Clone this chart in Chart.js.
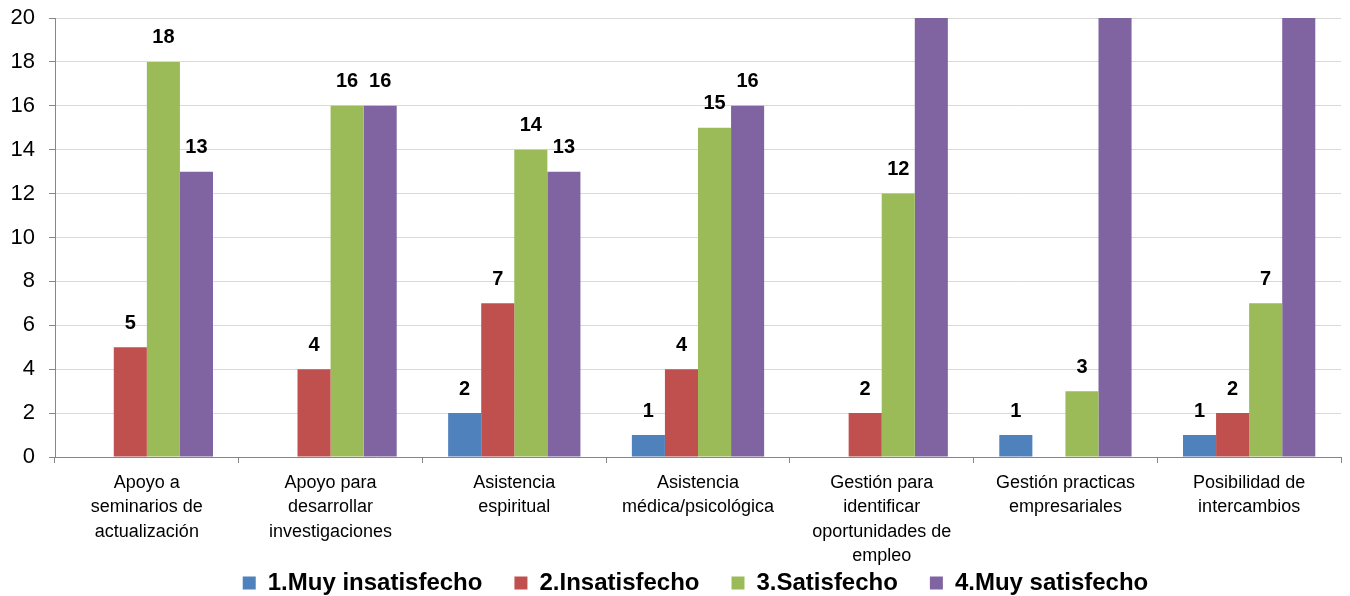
<!DOCTYPE html>
<html>
<head>
<meta charset="utf-8">
<script src="https://cdn.jsdelivr.net/npm/chart.js@4.4.1/dist/chart.umd.min.js"></script>
<style>
  html, body { margin: 0; padding: 0; background: #ffffff; }
  #wrap { width: 1350px; height: 596px; }
</style>
</head>
<body>
<div id="wrap"><canvas id="chart" width="1350" height="596"></canvas></div>
<script>
const categories = [
    ["Apoyo a", "seminarios de", "actualización"],
    ["Apoyo para", "desarrollar", "investigaciones"],
    ["Asistencia", "espiritual"],
    ["Asistencia", "médica/psicológica"],
    ["Gestión para", "identificar", "oportunidades de", "empleo"],
    ["Gestión practicas", "empresariales"],
    ["Posibilidad de", "intercambios"]
];
const seriesNames = ["1.Muy insatisfecho", "2.Insatisfecho", "3.Satisfecho", "4.Muy satisfecho"];
const muyInsatisfecho = [null, null, 2, 1, null, 1, 1];
const insatisfecho = [5, 4, 7, 4, 2, null, 2];
const satisfecho = [18, 16, 14, 15, 12, 3, 7];
// estos pasan de 20 y quedan cortados (total 36 por categoría)
const muySatisfecho = [13, 16, 13, 16, 22, 32, 26];
const yTicks = [0, 2, 4, 6, 8, 10, 12, 14, 16, 18, 20];

const colors = ["#4F81BD", "#C0504D", "#9BBB59", "#8064A2"];
const fontFamily = "'Liberation Sans', Arial, sans-serif";

// etiquetas de valor encima de cada barra
const valueLabels = {
    id: "valueLabels",
    afterDatasetsDraw(chart) {
        const ctx = chart.ctx;
        const yMax = chart.scales.y.max;
        ctx.save();
        ctx.font = "bold 20px " + fontFamily;
        ctx.fillStyle = "#000000";
        ctx.textAlign = "center";
        ctx.textBaseline = "middle";
        chart.data.datasets.forEach(function(ds, i) {
            const meta = chart.getDatasetMeta(i);
            meta.data.forEach(function(bar, j) {
                const v = ds.data[j];
                if (v === null || v > yMax) return;
                ctx.fillText(String(v), bar.x, bar.y - 24);
            });
        });
        ctx.restore();
    }
};

// las etiquetas del eje x bajan por encima de la leyenda, sin recorte
const layoutFix = {
    id: "layoutFix",
    afterLayout(chart) {
        chart.scales.x.bottom = chart.height;
        chart.legend.left += 25;
        chart.legend.right += 25;
    }
};

const ctx = document.getElementById("chart").getContext("2d");
new Chart(ctx, {
    type: "bar",
    data: {
        labels: categories,
        datasets: [muyInsatisfecho, insatisfecho, satisfecho, muySatisfecho].map(function(d, i) {
            return {
                label: seriesNames[i],
                data: d,
                backgroundColor: colors[i],
                borderWidth: 0,
                categoryPercentage: 0.72,
                barPercentage: 1.0
            };
        })
    },
    options: {
        responsive: false,
        animation: false,
        layout: { padding: { top: 18, right: 9, left: 0, bottom: 0 } },
        plugins: {
            tooltip: { enabled: false },
            legend: {
                position: "bottom",
                maxHeight: 57,
                labels: {
                    boxWidth: 13,
                    boxHeight: 13,
                    padding: 32,
                    color: "#000000",
                    font: { family: fontFamily, size: 24, weight: "bold" }
                }
            }
        },
        scales: {
            x: {
                grid: {
                    offset: true,
                    drawOnChartArea: false,
                    drawTicks: true,
                    tickLength: 6,
                    color: "#868686"
                },
                border: { color: "#868686", width: 1 },
                ticks: {
                    color: "#000000",
                    padding: 8,
                    maxRotation: 0,
                    autoSkip: false,
                    font: { family: fontFamily, size: 18, lineHeight: 1.35 }
                },
                afterFit: function(scale) { scale.height = 82; }
            },
            y: {
                min: 0,
                max: 20,
                afterBuildTicks: function(scale) {
                    scale.ticks = yTicks.map(function(v) { return { value: v }; });
                },
                grid: {
                    color: "#d9d9d9",
                    tickColor: "#868686",
                    tickLength: 6,
                    lineWidth: 1
                },
                border: { color: "#868686", width: 1 },
                ticks: {
                    color: "#000000",
                    padding: 14,
                    font: { family: fontFamily, size: 22 }
                },
                afterFit: function(scale) {
                    scale.width = 55;
                    scale.paddingTop = 0;
                    scale.paddingBottom = 0;
                }
            }
        }
    },
    plugins: [valueLabels, layoutFix]
});
</script>
</body>
</html>
